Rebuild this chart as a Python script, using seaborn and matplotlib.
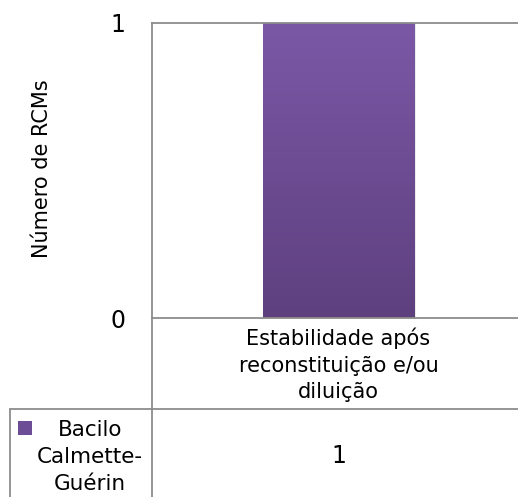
import textwrap
import numpy as np
import pandas as pd
import matplotlib
matplotlib.use("Agg")
import matplotlib.pyplot as plt
from matplotlib.lines import Line2D
from matplotlib.patches import Rectangle
from matplotlib.colors import LinearSegmentedColormap
import seaborn as sns

# Data
categories = ["Estabilidade após reconstituição e/ou diluição"]
series_name = "Bacilo Calmette-Guérin"
values = [1]
y_ticks = [0, 1]

sns.set_theme(style="white")
plt.rcParams["font.family"] = ["DejaVu Sans"]

W, H = 518, 497
fig = plt.figure(figsize=(W / 100, H / 100), dpi=100)
fig.patch.set_facecolor("white")

def fx(px):
    return px / W

def fy(py):
    return 1 - py / H

ax = fig.add_axes([fx(152), fy(318), fx(525) - fx(152), fy(23) - fy(318)])

df = pd.DataFrame({"categoria": categories, "valor": values})
sns.barplot(data=df, x="categoria", y="valor", color="#6d4e96", width=0.405,
            ax=ax, edgecolor="none", zorder=2)

# vertical purple gradient on the bar
top_c = (123 / 255, 88 / 255, 166 / 255)
bot_c = (94 / 255, 64 / 255, 127 / 255)
cmap = LinearSegmentedColormap.from_list("roxo", [bot_c, top_c])
for p in ax.patches:
    x0, y0 = p.get_x(), p.get_y()
    w, h = p.get_width(), p.get_height()
    # soft shadow on the right side
    ax.add_patch(Rectangle((x0 + 0.006, y0), w, h, facecolor="#000000",
                           alpha=0.08, edgecolor="none", zorder=1.5))
    grad = np.linspace(0, 1, 256).reshape(-1, 1)
    im = ax.imshow(grad, cmap=cmap, origin="lower", aspect="auto",
                   extent=[x0, x0 + w, y0, y0 + h], zorder=2.5)
    im.set_clip_path(p)

ax.set_xlim(-0.5, 0.5)
ax.set_ylim(0, 1)
ax.set_yticks(y_ticks)
ax.set_yticklabels([str(t) for t in y_ticks], fontsize=17, color="#000000")
ax.tick_params(axis="y", length=0, pad=19)
ax.set_xticks(range(len(categories)))
ax.set_xticklabels([textwrap.fill(c, 19) for c in categories], fontsize=15,
                   color="#000000", linespacing=1.4)
ax.tick_params(axis="x", length=0, pad=7)
ax.set_xlabel("")
ax.set_ylabel("")

line_c = "#8c8c8c"
for side in ["left", "top", "bottom", "right"]:
    ax.spines[side].set_color(line_c)
    ax.spines[side].set_linewidth(1.3)

fig.text(fx(42), fy(169), "Número de RCMs", rotation=90, ha="center",
         va="center", fontsize=15, color="#000000")

# data table beneath the chart
lines = [
    ((152, 152), (318, 500)),
    ((10, 530), (409, 409)),
    ((10, 10), (409, 500)),
]
for xs, ys in lines:
    fig.add_artist(Line2D([fx(x) for x in xs], [fy(y) for y in ys],
                          color=line_c, linewidth=1.3))

fig.add_artist(Rectangle((fx(18), fy(435)), fx(32) - fx(18), fy(421) - fy(435),
                         transform=fig.transFigure, facecolor="#6d4e96",
                         edgecolor="none"))
fig.text(fx(90), fy(457), "Bacilo\nCalmette-\nGuérin", ha="center", va="center",
         fontsize=15.5, color="#000000", linespacing=1.42)
fig.text(fx(338.5), fy(456), str(values[0]), ha="center", va="center",
         fontsize=17, color="#000000")

fig.savefig("out.png", dpi=100)
